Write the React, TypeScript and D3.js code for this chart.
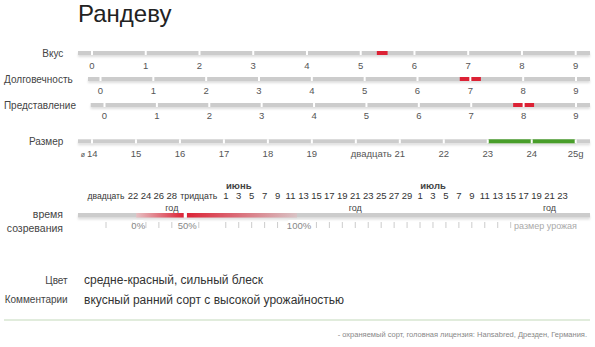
import React, { useMemo } from "react";
import * as d3 from "d3";

// ---------- data ----------
const title = "Рандеву";

const scoreTicks = [0, 1, 2, 3, 4, 5, 6, 7, 8, 9];
const scoreRowNames = ["Вкус", "Долговечность", "Представление"];
const scoreRanges: [number, number][] = [
  [5.3, 5.5],
  [6.8, 7.2],
  [7.8, 8.2],
];

const sizeRowName = "Размер";
const sizeTicks = [14, 15, 16, 17, 18, 19, 20, 21, 22, 23, 24, 25];
const sizeTickLabels = ["ø 14", "15", "16", "17", "18", "19", "двадцать", "21", "22", "23", "24", "25g"];
const sizeRange: [number, number] = [23, 25];

const ripeningRowName = ["время", "созревания"];
// day offsets relative to 1 June
const ripeningDayOffsets = [
  -12, -10, -8, -6, -4, -2,
  0, 2, 4, 6, 8, 10, 12, 14, 16, 18, 20, 22, 24, 26, 28,
  30, 32, 34, 36, 38, 40, 42, 44, 46, 48, 50, 52,
];
const ripeningDayLabels = [
  "двадцать", "22", "24", "26", "28", "тридцать",
  "1", "3", "5", "7", "9", "11", "13", "15", "17", "19", "21", "23", "25", "27", "29",
  "1", "3", "5", "7", "9", "11", "13", "15", "17", "19", "21", "23",
];
const monthLabels = ["июнь", "июль"];
const monthLabelDays = [2, 32];
const yearLabel = "год";
const yearLabelDays = [-4, 20, 50];
const ripeningStart = -9.5;
const ripeningPeak = -3;
const ripeningEnd = 11;
const ripeningPercentLabels = ["0%", "50%", "100%"];
const yieldLabel = "размер урожая";

const colorRowName = "Цвет";
const colorValue = "средне-красный, сильный блеск";
const commentRowName = "Комментарии";
const commentValue = "вкусный ранний сорт с высокой урожайностью";
const footerText = "- охраняемый сорт, головная лицензия: Hansabred, Дрезден, Германия.";

// ---------- style / layout ----------
const W = 595;
const H = 347;
const FONT = "'Liberation Sans', Arial, Helvetica, sans-serif";
const GRAY = "#cccccc";
const RED = "#dc2336";
const GREEN = "#4a9e2b";
const BAR_END = 590;
const BAR_H = 4;
const TICK_GAP = 2;

const scoreLayout = [
  { barY: 51, barX0: 78, r0: 92, r1: 575.7, tickY: 68.5, nameX: 63.3, nameY: 56.6 },
  { barY: 77, barX0: 88, r0: 100.5, r1: 576, tickY: 93.5, nameX: 72.7, nameY: 82.6 },
  { barY: 103, barX0: 90.7, r0: 104.5, r1: 576, tickY: 119.3, nameX: 76, nameY: 108.6 },
];
const sizeLayout = { barY: 139.3, barX0: 78, r0: 92, r1: 575.7, tickY: 156.8, nameX: 63.3, nameY: 145 };

const RIP_FLOW_START = 85.5;
const RIP_WORD_CELL = 41;
const RIP_WORD_TEXT = 37;
const RIP_DAY_CELL = 12.95;
const RIP_BAR_Y = 213;

function isNumeric(s: string) {
  return /\d/.test(s);
}

function BarRow(props: {
  name: string;
  ticks: number[];
  labels: string[];
  range: [number, number];
  color: string;
  layout: { barY: number; barX0: number; r0: number; r1: number; tickY: number; nameX: number; nameY: number };
}) {
  const { name, ticks, labels, range, color, layout } = props;
  const x = d3
    .scaleLinear()
    .domain([ticks[0], ticks[ticks.length - 1]])
    .range([layout.r0, layout.r1]);
  return (
    <g>
      <text x={layout.nameX} y={layout.nameY} textAnchor="end" fontSize={10} fill="#444">
        {name}
      </text>
      <g filter="url(#barShadow)">
        <rect x={layout.barX0} y={layout.barY} width={BAR_END - layout.barX0} height={BAR_H} fill={GRAY} />
        <rect x={x(range[0])} y={layout.barY} width={x(range[1]) - x(range[0])} height={BAR_H} fill={color} />
        {ticks.map((t) => (
          <rect key={t} x={x(t) - TICK_GAP / 2} y={layout.barY} width={TICK_GAP} height={BAR_H} fill="#fff" />
        ))}
      </g>
      {ticks.map((t, i) => {
        const lab = labels[i];
        if (!isNumeric(lab)) {
          const next = ticks[i + 1];
          return (
            <text key={t} x={x(next) - 8} y={layout.tickY} textAnchor="end" fontSize={9.5} fill="#555">
              {lab}
            </text>
          );
        }
        if (lab.startsWith("ø")) {
          return (
            <text key={t} x={x(t) + 5.5} y={layout.tickY} textAnchor="end" fill="#555" fontSize={9.5}>
              <tspan fontSize={7}>ø </tspan>
              {lab.replace("ø ", "")}
            </text>
          );
        }
        return (
          <text key={t} x={x(t)} y={layout.tickY} textAnchor="middle" fontSize={9.5} fill="#555">
            {lab}
          </text>
        );
      })}
    </g>
  );
}

export default function App() {
  const rip = useMemo(() => {
    const centers: number[] = [];
    let cursor = RIP_FLOW_START;
    ripeningDayLabels.forEach((lab) => {
      const w = isNumeric(lab) ? RIP_DAY_CELL : RIP_WORD_CELL;
      centers.push(cursor + w / 2);
      cursor += w;
    });
    const x = d3.scaleLinear().domain(ripeningDayOffsets).range(centers);
    return { centers, x };
  }, []);

  const xr = rip.x;
  const xs = xr(ripeningStart);
  const xp = xr(ripeningPeak);
  const xe = xr(ripeningEnd);
  const percentXs = [xs, xp, xe];

  return (
    <svg
      width={W}
      height={H}
      viewBox={`0 0 ${W} ${H}`}
      style={{ position: "absolute", left: 0, top: 0, background: "#fff" }}
      fontFamily={FONT}
    >
      <defs>
        <filter id="barShadow" x="-5%" y="-100%" width="110%" height="400%">
          <feDropShadow dx="0" dy="2" stdDeviation="1.2" floodColor="#000" floodOpacity="0.13" />
        </filter>
        <linearGradient id="ripRise" x1="0" x2="1" y1="0" y2="0">
          <stop offset="0%" stopColor="#e6c0c3" />
          <stop offset="100%" stopColor={RED} />
        </linearGradient>
        <linearGradient id="ripFall" x1="0" x2="1" y1="0" y2="0">
          <stop offset="0%" stopColor={RED} />
          <stop offset="100%" stopColor="#d9c3c5" />
        </linearGradient>
      </defs>

      <text x={78} y={22} fontSize={24} fill="#222">
        {title}
      </text>

      {scoreRowNames.map((name, i) => (
        <BarRow
          key={name}
          name={name}
          ticks={scoreTicks}
          labels={scoreTicks.map(String)}
          range={scoreRanges[i]}
          color={RED}
          layout={scoreLayout[i]}
        />
      ))}

      <BarRow
        name={sizeRowName}
        ticks={sizeTicks}
        labels={sizeTickLabels}
        range={sizeRange}
        color={GREEN}
        layout={sizeLayout}
      />

      {/* ripening time */}
      <g>
        {monthLabels.map((m, i) => (
          <text key={m} x={xr(monthLabelDays[i])} y={188.5} textAnchor="middle" fontSize={9.5} fontWeight="bold" fill="#444">
            {m}
          </text>
        ))}
        {ripeningDayLabels.map((lab, i) =>
          isNumeric(lab) ? (
            <text key={i} x={rip.centers[i]} y={199} textAnchor="middle" fontSize={9.5} fill="#333">
              {lab}
            </text>
          ) : (
            <text
              key={i}
              x={rip.centers[i] - RIP_WORD_TEXT / 2}
              y={199}
              fontSize={9.5}
              fill="#333"
              textLength={RIP_WORD_TEXT}
              lengthAdjust="spacingAndGlyphs"
            >
              {lab}
            </text>
          )
        )}
        {yearLabelDays.map((d) => (
          <text key={d} x={xr(d)} y={211} textAnchor="middle" fontSize={9} fill="#444">
            {yearLabel}
          </text>
        ))}
        <text x={63} y={218} textAnchor="end" fontSize={10.5} fill="#444">
          {ripeningRowName[0]}
        </text>
        <text x={63} y={232} textAnchor="end" fontSize={10.5} fill="#444">
          {ripeningRowName[1]}
        </text>
        <g filter="url(#barShadow)">
          <rect x={78} y={RIP_BAR_Y} width={BAR_END - 78} height={BAR_H + 0.5} fill={GRAY} />
          <rect x={xs} y={RIP_BAR_Y} width={xp - 1.5 - xs} height={BAR_H + 0.5} fill="url(#ripRise)" />
          <rect x={xp + 1.5} y={RIP_BAR_Y} width={xe - xp - 1.5} height={BAR_H + 0.5} fill="url(#ripFall)" />
          <rect x={xp - 1.5} y={RIP_BAR_Y} width={3} height={BAR_H + 0.5} fill="#fff" />
        </g>
        {rip.centers.map((c, i) => (
          <line key={i} x1={c} x2={c} y1={222} y2={228} stroke="#ccc" strokeWidth={1} />
        ))}
        {ripeningPercentLabels.map((p, i) => {
          const w = p.length * 5.3;
          const cx = percentXs[i] + 2;
          return (
            <g key={p}>
              <rect x={cx - w / 2} y={220} width={w} height={10} fill="#fff" />
              <text x={cx} y={228.5} textAnchor="middle" fontSize={9.5} fill="#888">
                {p}
              </text>
            </g>
          );
        })}
        <rect x={519} y={220} width={59} height={10} fill="#fff" />
        <text x={577} y={228.5} textAnchor="end" fontSize={9} fill="#aaa">
          {yieldLabel}
        </text>
      </g>

      {/* color & comments */}
      <text x={67.7} y={283.5} textAnchor="end" fontSize={10} fill="#444">
        {colorRowName}
      </text>
      <text x={84} y={284} fontSize={12} fill="#333">
        {colorValue}
      </text>
      <text x={67.7} y={303} textAnchor="end" fontSize={10} fill="#444">
        {commentRowName}
      </text>
      <text x={84} y={303.5} fontSize={12} fill="#333">
        {commentValue}
      </text>

      <line x1={4} x2={590} y1={320} y2={320} stroke="#c3d9ba" strokeWidth={1} />
      <text x={587} y={337} textAnchor="end" fontSize={7.5} fill="#888">
        {footerText}
      </text>
    </svg>
  );
}
